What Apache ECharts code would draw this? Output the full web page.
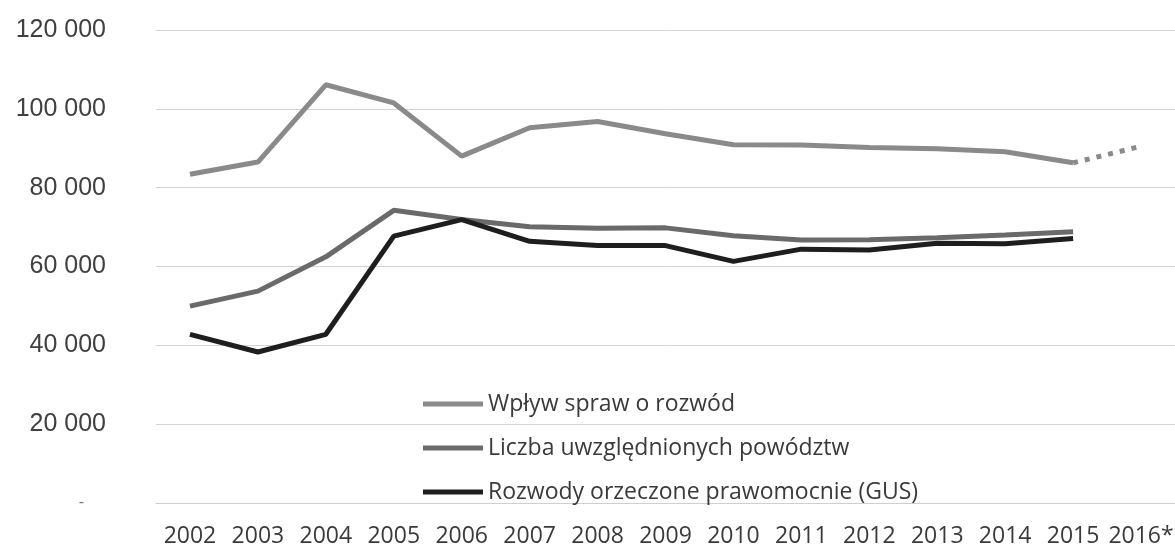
<!DOCTYPE html>
<html>
<head>
<meta charset="utf-8">
<script src="https://cdn.jsdelivr.net/npm/echarts@6/dist/echarts.min.js"></script>
<style>
html,body{margin:0;padding:0;background:#fff;}
#c{width:1175px;height:551px;}
</style>
</head>
<body>
<div id="c"></div>
<script>
var years = ['2002','2003','2004','2005','2006','2007','2008','2009','2010','2011','2012','2013','2014','2015','2016*'];
var wplyw = [83400, 86500, 106100, 101500, 88000, 95200, 96800, 93700, 90900, 90800, 90200, 89900, 89100, 86300, null];
var wplywPrognoza = [null, null, null, null, null, null, null, null, null, null, null, null, null, 86300, 90500];
var liczba = [49950, 53750, 62450, 74250, 71900, 70100, 69700, 69800, 67800, 66700, 66800, 67300, 68000, 68800, null];
var rozwody = [42800, 38300, 42800, 67700, 71900, 66400, 65300, 65300, 61300, 64400, 64200, 65900, 65800, 67100, null];
var seriesNames = ['Wpływ spraw o rozwód', 'Liczba uwzględnionych powództw', 'Rozwody orzeczone prawomocnie (GUS)'];

var chart = echarts.init(document.getElementById('c'), null, {renderer: 'canvas'});
function fmt(v) {
  if (v === 0) return '{z|-}';
  return String(v).replace(/\B(?=(\d{3})+(?!\d))/g, ' ');
}
chart.setOption({
  animation: false,
  backgroundColor: '#ffffff',
  grid: {left: 156, right: -77, top: 30, bottom: 48, containLabel: false},
  legend: {
    data: seriesNames,
    orient: 'vertical',
    left: 418,
    top: 387,
    icon: 'rect',
    itemWidth: 60,
    itemHeight: 5,
    itemGap: 20,
    textStyle: {fontFamily: 'Open Sans', fontSize: 23, color: '#3a3a3a', lineHeight: 24}
  },
  xAxis: {
    type: 'category',
    data: years,
    boundaryGap: true,
    axisLine: {show: true, lineStyle: {color: '#cfcfcf', width: 1}},
    axisTick: {show: false},
    axisLabel: {interval: 0, margin: 22, fontFamily: 'Open Sans', fontSize: 23, color: '#3a3a3a'},
    splitLine: {show: false}
  },
  yAxis: {
    type: 'value',
    min: 0,
    max: 120000,
    interval: 20000,
    axisLine: {show: false},
    axisTick: {show: false},
    axisLabel: {
      margin: 50,
      fontFamily: 'Liberation Sans',
      fontSize: 25,
      color: '#404040',
      formatter: fmt,
      rich: {z: {fontFamily: 'Liberation Sans', fontSize: 16, color: '#777', padding: [0, 22, 0, 0]}}
    },
    splitLine: {show: true, lineStyle: {color: '#d4d4d4', width: 1}}
  },
  series: [
    {name: seriesNames[0], type: 'line', data: wplyw, symbol: 'none', color: '#8a8a8a',
     lineStyle: {width: 5, color: '#8a8a8a'}, itemStyle: {color: '#8a8a8a'}},
    {name: 'prognoza', type: 'line', data: wplywPrognoza, symbol: 'none', color: '#8a8a8a',
     lineStyle: {width: 5, color: '#8a8a8a', type: [5, 7]}},
    {name: seriesNames[1], type: 'line', data: liczba, symbol: 'none', color: '#6a6a6a',
     lineStyle: {width: 5, color: '#6a6a6a'}, itemStyle: {color: '#6a6a6a'}},
    {name: seriesNames[2], type: 'line', data: rozwody, symbol: 'none', color: '#1e1e1e',
     lineStyle: {width: 5, color: '#1e1e1e'}, itemStyle: {color: '#1e1e1e'}, z: 3}
  ]
});
</script>
</body>
</html>
